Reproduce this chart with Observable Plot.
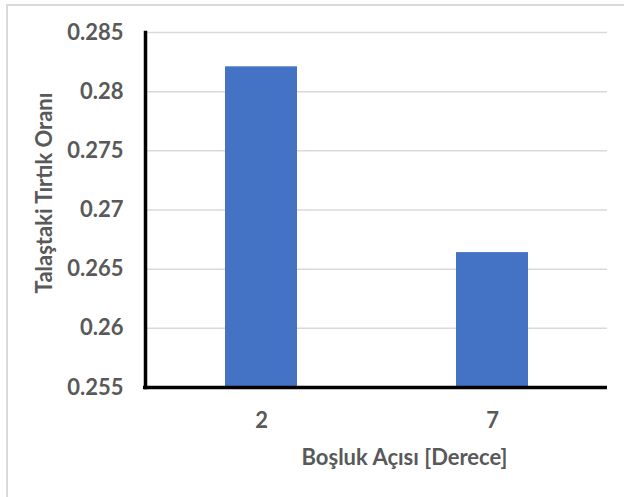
<!DOCTYPE html>
<html>
<head>
<meta charset="utf-8">
<script src="https://cdn.jsdelivr.net/npm/d3@7"></script>
<script src="https://cdn.jsdelivr.net/npm/@observablehq/plot@0.6"></script>
<style>
  html, body { margin: 0; padding: 0; background: #fff; }
  #wrap { position: relative; width: 624px; height: 497px; overflow: hidden; }
  #border { position: absolute; left: 6px; top: 4px; width: 700px; height: 600px;
            border-top: 2px solid #d9d9d9; border-left: 2px solid #d9d9d9; pointer-events: none; }
  svg { font-family: Lato, "Open Sans", sans-serif; }
</style>
</head>
<body>
<div id="wrap"><div id="border"></div></div>
<script>
const categories = ["2", "7"];
const values = [0.2821, 0.2664];
const yTicks = [0.255, 0.26, 0.265, 0.27, 0.275, 0.28, 0.285];
const yTickLabels = ["0.255", "0.26", "0.265", "0.27", "0.275", "0.28", "0.285"];
const yTitle = "Talaştaki Tırtık Oranı";
const xTitle = "Boşluk Açısı [Derece]";

const data = categories.map((c, i) => ({cat: c, value: values[i]}));
const grey = "#595959";

const chart = Plot.plot({
  width: 624,
  height: 497,
  marginLeft: 145,
  marginRight: 17,
  marginTop: 32,
  marginBottom: 110,
  style: {fontFamily: "Lato, 'Open Sans', sans-serif", background: "transparent"},
  x: {domain: categories, paddingInner: 0.69, paddingOuter: 0.345, label: null},
  y: {domain: [0.255, 0.285], label: null},
  marks: [
    Plot.gridY(yTicks, {stroke: "#d9d9d9", strokeOpacity: 1, strokeWidth: 1.5}),
    Plot.barY(data, {x: "cat", y1: 0.255, y2: "value", fill: "#4472C4"}),
    Plot.axisY(yTicks, {
      tickSize: 0, tickPadding: 22, label: null,
      tickFormat: d => yTickLabels[yTicks.indexOf(d)],
      fontSize: 22, fontWeight: "bold", fill: grey
    }),
    Plot.axisX({
      tickSize: 0, tickPadding: 25, label: null,
      fontSize: 22, fontWeight: "bold", fill: grey
    }),
    Plot.ruleY([0.255], {stroke: "black", strokeWidth: 3.5, insetLeft: -2}),
    Plot.frame({anchor: "left", stroke: "black", strokeWidth: 3.5}),
    Plot.text([yTitle], {
      text: d => d, frameAnchor: "left", textAnchor: "middle", lineAnchor: "middle",
      rotate: -90, dx: -101, dy: -17,
      fontSize: 22, fontWeight: "bold", fill: grey
    }),
    Plot.text([xTitle], {
      text: d => d, frameAnchor: "bottom", textAnchor: "middle", lineAnchor: "middle",
      dx: 28, dy: 70,
      fontSize: 22, fontWeight: "bold", fill: grey
    })
  ]
});
document.getElementById("wrap").prepend(chart);
</script>
</body>
</html>
